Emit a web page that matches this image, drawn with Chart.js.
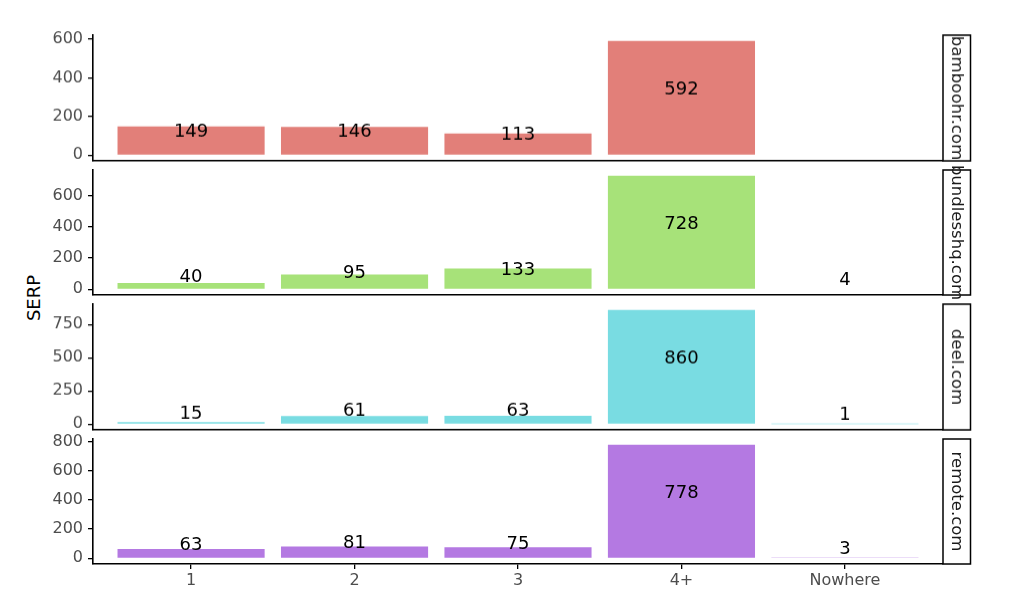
<!DOCTYPE html>
<html>
<head>
<meta charset="utf-8">
<script src="https://cdn.jsdelivr.net/npm/chart.js@4/dist/chart.umd.min.js"></script>
<style>
  html, body { margin: 0; padding: 0; background: #fff; }
  #wrap { position: relative; width: 1010px; height: 609px; overflow: hidden; background: #fff; }
  canvas { position: absolute; left: 0; }
  #ylab { position: absolute; left: 33px; top: 298px; transform: translate(-50%, -50%) rotate(-90deg);
          font-family: "DejaVu Sans", sans-serif; font-size: 18px; color: #000; white-space: nowrap; }
</style>
</head>
<body>
<div id="wrap">
  <div id="ylab">SERP</div>
</div>
<script>
// ---- data ----
const categories = ['1', '2', '3', '4+', 'Nowhere'];
const domains = ['bamboohr.com', 'bundlesshq.com', 'deel.com', 'remote.com'];
const bamboohr = [149, 146, 113, 592, null];
const bundlesshq = [40, 95, 133, 728, 4];
const deel = [15, 61, 63, 860, 1];
const remote = [63, 81, 75, 778, 3];
const yTicksBamboohr = [0, 200, 400, 600];
const yTicksBundlesshq = [0, 200, 400, 600];
const yTicksDeel = [0, 250, 500, 750];
const yTicksRemote = [0, 200, 400, 600, 800];

const seriesList = [bamboohr, bundlesshq, deel, remote];
const tickList = [yTicksBamboohr, yTicksBundlesshq, yTicksDeel, yTicksRemote];
const colors = ['#E27F79', '#A7E279', '#79DCE2', '#B479E2'];

// ---- layout ----
const FONT = '"DejaVu Sans", sans-serif';
const panelTop0 = 35, panelStep = 134.5, panelH = 125.5;
const padTop = 20, plotLeft = 93, plotRight = 943;
const W = 1010;

const labelPlugin = {
  id: 'valueLabels',
  afterDatasetsDraw(chart) {
    const ctx = chart.ctx;
    const ys = chart.scales.y, xs = chart.scales.x;
    ctx.save();
    ctx.font = '18px ' + FONT;
    ctx.fillStyle = '#000';
    ctx.textAlign = 'center';
    ctx.textBaseline = 'alphabetic';
    chart.data.datasets[0].data.forEach(pt => {
      if (pt.y === null || pt.y === undefined) return;
      const x = xs.getPixelForValue(pt.x);
      const y = ys.getPixelForValue(pt.y / 2) - 4;
      ctx.fillText(String(pt.y), x, y);
    });
    ctx.restore();
  }
};

const stripPlugin = {
  id: 'strip',
  afterDraw(chart, args, opts) {
    const ctx = chart.ctx;
    const a = chart.chartArea;
    const x0 = a.right, w = 27.5;
    ctx.save();
    ctx.fillStyle = '#fff';
    ctx.fillRect(x0, a.top, w, a.bottom - a.top);
    ctx.strokeStyle = '#000';
    ctx.lineWidth = 1.5;
    ctx.strokeRect(x0, a.top, w, a.bottom - a.top);
    ctx.translate(x0 + w / 2, (a.top + a.bottom) / 2);
    ctx.rotate(Math.PI / 2);
    ctx.font = '16.5px ' + FONT;
    ctx.fillStyle = '#1a1a1a';
    ctx.textAlign = 'center';
    ctx.textBaseline = 'middle';
    ctx.fillText(opts.text, 0, 0);
    ctx.restore();
  }
};

const wrap = document.getElementById('wrap');

seriesList.forEach((values, p) => {
  const isLast = p === seriesList.length - 1;
  const bottomSpace = isLast ? 45 : 20;
  const panelTop = panelTop0 + p * panelStep;
  const cv = document.createElement('canvas');
  const h = padTop + panelH + bottomSpace;
  cv.width = W; cv.height = h;
  cv.style.width = W + 'px'; cv.style.height = h + 'px';
  cv.style.top = (panelTop - padTop) + 'px';
  wrap.appendChild(cv);

  const vmax = Math.max(...values.filter(v => v !== null));
  const ticks = tickList[p];

  new Chart(cv, {
    type: 'bar',
    data: {
      datasets: [{
        data: values.map((v, i) => ({ x: i, y: v })),
        backgroundColor: colors[p],
        borderWidth: 0,
        categoryPercentage: 0.9,
        barPercentage: 1.0
      }]
    },
    options: {
      responsive: false,
      animation: false,
      devicePixelRatio: 1,
      layout: { padding: { top: padTop, right: W - plotRight, bottom: 0, left: 0 } },
      plugins: {
        legend: { display: false },
        tooltip: { enabled: false },
        strip: { text: domains[p] }
      },
      scales: {
        x: {
          type: 'linear',
          offset: false,
          min: -0.6,
          max: categories.length - 1 + 0.6,
          afterBuildTicks: s => { s.ticks = categories.map((c, i) => ({ value: i })); },
          afterFit: s => { s.height = bottomSpace; },
          ticks: {
            display: isLast,
            callback: v => categories[v],
            font: { family: FONT, size: 16 },
            color: '#4d4d4d',
            padding: 2,
            maxRotation: 0,
            autoSkip: false
          },
          grid: {
            display: isLast,
            offset: false,
            drawOnChartArea: false,
            drawTicks: true,
            tickLength: 5,
            color: '#000',
            lineWidth: 1.3
          },
          border: { display: true, color: '#000', width: 1.6 }
        },
        y: {
          type: 'linear',
          min: -0.05 * vmax,
          max: 1.05 * vmax,
          afterBuildTicks: s => { s.ticks = ticks.map(v => ({ value: v })); },
          afterFit: s => { s.width = plotLeft; },
          ticks: {
            font: { family: FONT, size: 16 },
            color: '#4d4d4d',
            padding: 5
          },
          grid: {
            display: true,
            drawOnChartArea: false,
            drawTicks: true,
            tickLength: 5,
            color: '#000',
            lineWidth: 1.3
          },
          border: { display: true, color: '#000', width: 1.6 }
        }
      }
    },
    plugins: [labelPlugin, stripPlugin]
  });
});
</script>
</body>
</html>
